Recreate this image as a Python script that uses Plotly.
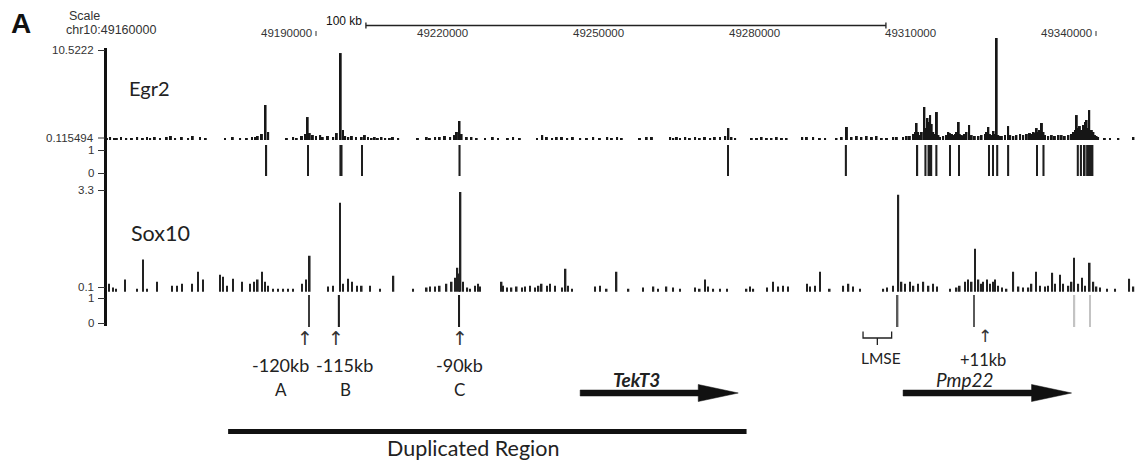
import plotly.graph_objects as go

# ---------------- data (genomic positions in kb on chr10) ----------------
tick_kb = [49190, 49220, 49250, 49280, 49310, 49340]
tick_text = ["49190000", "49220000", "49250000", "49280000", "49310000", "49340000"]
scale_start_kb = 49199.6
scale_len_kb = 100

egr2_pos = [49149.8, 49150.4, 49151.2, 49151.7, 49152.5, 49153.5, 49154.6, 49155.6, 49156.7, 49157.5,
            49158.1, 49159.0, 49160.0, 49161.3, 49162.1, 49162.9, 49164.2, 49165.4, 49166.3, 49167.7,
            49168.8, 49172.5, 49174.0, 49175.4, 49176.7, 49177.7, 49178.3, 49178.8, 49179.6, 49180.3,
            49180.8, 49184.4, 49185.6, 49186.3, 49187.3, 49187.9, 49188.4, 49188.8, 49189.4, 49190.0,
            49190.8, 49191.3, 49192.3, 49193.3, 49194.0, 49194.75, 49195.2, 49195.6, 49196.2, 49196.9,
            49197.7,
            49198.8, 49199.4, 49200.0, 49200.7, 49201.3, 49201.9, 49202.6, 49203.3, 49204.2, 49204.8,
            49205.8, 49209.6, 49211.3, 49211.9, 49212.9, 49213.8, 49214.8, 49215.8, 49216.7, 49217.1,
            49217.6, 49218.0, 49219.0, 49219.9, 49220.9, 49222.5, 49224.0, 49225.0, 49226.9, 49227.9,
            49229.2, 49232.5, 49233.5, 49234.4, 49235.4, 49236.3, 49237.3, 49238.3, 49239.4, 49240.8,
            49242.1, 49243.3, 49244.6, 49246.0, 49246.9, 49247.9,
            49248.8, 49252.3, 49253.6, 49254.6, 49258.1, 49258.7, 49259.4, 49260.0, 49261.0, 49261.9,
            49262.9, 49263.8, 49264.8, 49265.8, 49266.7, 49267.7, 49268.7, 49269.3, 49269.9, 49270.6,
            49273.8, 49274.8, 49275.7, 49276.7, 49277.6, 49278.6, 49279.6, 49280.5, 49283.5, 49284.4,
            49285.6, 49286.9, 49287.9, 49290.1, 49291.1, 49292.1, 49293.0, 49294.0, 49294.9, 49295.9,
            49296.9, 49297.8,
            49298.8, 49299.8, 49301.0, 49301.7, 49302.9, 49303.6, 49304.2, 49304.9, 49305.2, 49305.5,
            49305.8, 49306.2, 49306.5, 49307.0, 49307.3, 49307.6, 49307.8, 49308.1, 49308.4, 49308.7,
            49309.0, 49309.4, 49309.7, 49310.0, 49310.6, 49311.3, 49311.6, 49311.9, 49312.3, 49312.6,
            49312.9, 49313.2, 49313.6, 49313.8, 49314.2, 49314.5, 49314.8, 49315.1, 49315.6, 49316.1,
            49316.7, 49317.4, 49318.0, 49318.7, 49319.0, 49319.3, 49319.6, 49319.9, 49320.3, 49320.6,
            49320.9, 49321.2, 49321.5, 49321.9, 49322.5, 49323.1, 49323.5, 49324.1, 49324.7, 49325.4,
            49326.0, 49326.7, 49327.3, 49327.6, 49328.0, 49328.3, 49328.6, 49328.9, 49329.2, 49329.6,
            49329.9, 49330.2, 49330.8, 49331.5, 49332.1, 49332.8, 49333.4, 49334.0, 49334.7, 49335.3,
            49335.6, 49336.0, 49336.3, 49336.6, 49336.9, 49337.3, 49337.6, 49337.9, 49338.2, 49338.5,
            49338.7, 49339.2, 49339.5, 49339.8, 49340.1, 49340.4, 49341.7, 49342.7, 49344.3, 49347.2,
            49348.1]
egr2_val = [0.35, 0.46, 0.35, 0.35, 0.46, 0.35, 0.35, 0.46, 0.35, 0.46,
            0.35, 0.46, 0.35, 0.46, 0.58, 0.35, 0.46, 0.35, 0.58, 0.46,
            0.35, 0.35, 0.46, 0.35, 0.35, 0.46, 0.46, 0.58, 0.81, 4.16,
            1.04, 0.35, 0.46, 0.35, 0.58, 0.81, 2.77, 0.92, 0.69, 0.58,
            0.69, 0.46, 0.58, 0.46, 0.92, 10.17, 1.27, 0.58, 0.46, 0.58,
            0.46,
            0.46, 0.69, 0.46, 0.35, 0.46, 0.35, 0.46, 0.35, 0.35, 0.46,
            0.35, 0.35, 0.46, 0.35, 0.46, 0.46, 0.58, 0.46, 0.69, 1.04,
            2.31, 0.81, 0.46, 0.46, 0.35, 0.35, 0.46, 0.35, 0.35, 0.46,
            0.35, 0.35, 0.69, 0.46, 0.35, 0.46, 0.46, 0.35, 0.46, 0.35,
            0.35, 0.46, 0.35, 0.46, 0.35, 0.46,
            0.35, 0.35, 0.46, 0.46, 0.46, 0.35, 0.46, 0.35, 0.46, 0.35,
            0.46, 0.35, 0.46, 0.35, 0.46, 0.46, 0.58, 1.50, 0.46, 0.35,
            0.35, 0.35, 0.46, 0.35, 0.35, 0.46, 0.35, 0.35, 0.46, 0.46,
            0.46, 0.35, 0.35, 0.35, 0.46, 1.62, 0.46, 0.58, 0.46, 0.58,
            0.46, 0.58,
            0.35, 0.35, 0.46, 0.46, 0.46, 0.58, 0.58, 0.81, 1.04, 2.08,
            1.04, 0.69, 1.04, 3.93, 1.50, 2.66, 2.20, 3.00, 1.97, 1.04,
            0.81, 3.35, 0.69, 0.46, 0.58, 0.69, 1.04, 0.92, 0.81, 0.69,
            0.81, 1.04, 2.20, 0.81, 0.69, 0.58, 0.81, 1.04, 1.85, 0.69,
            0.58, 0.58, 0.69, 0.81, 1.04, 1.62, 0.81, 0.69, 1.16, 0.81,
            11.91, 0.69, 0.58, 0.58, 0.69, 1.73, 0.69, 0.58, 0.69, 0.81,
            0.69, 0.81, 0.92, 0.81, 1.04, 0.92, 1.50, 1.04, 1.27, 2.08,
            1.04, 0.69, 0.58, 0.69, 0.58, 0.69, 0.69, 0.58, 0.69, 0.81,
            1.04, 1.27, 3.00, 1.50, 1.73, 1.27, 1.85, 2.20, 2.43, 1.50,
            3.58, 1.27, 1.04, 0.69, 0.58, 0.46, 0.35, 0.35, 0.35, 0.46,
            0.46]

egr2_peak_start = [49180.3, 49188.4, 49194.5, 49198.8, 49217.4, 49269.2, 49291.7, 49305.5, 49307.0, 49307.6,
                   49308.2, 49309.1, 49311.8, 49313.5, 49319.3, 49320.0, 49320.8, 49322.9, 49328.6, 49329.7,
                   49336.3, 49336.9, 49337.5, 49338.1, 49338.8, 49339.2]
egr2_peak_end = [49180.6, 49188.6, 49195.1, 49199.0, 49217.8, 49269.4, 49292.1, 49305.8, 49307.4, 49308.1,
                 49308.5, 49309.5, 49312.0, 49313.8, 49319.5, 49320.3, 49321.2, 49323.3, 49328.8, 49330.1,
                 49336.7, 49337.3, 49338.0, 49338.7, 49339.1, 49339.5]

sox10_pos = [49149.6, 49150.2, 49151.0, 49151.5, 49153.3, 49155.6, 49156.7, 49157.5, 49159.4, 49162.3,
             49163.3, 49164.2, 49166.2, 49167.3, 49168.3, 49171.5, 49172.1, 49172.9, 49174.0, 49175.8,
             49177.3, 49178.1, 49178.8, 49179.6, 49180.2, 49180.8, 49181.7, 49182.7, 49183.7, 49184.6,
             49185.6, 49187.3, 49188.1, 49188.8, 49192.3, 49193.3, 49194.6, 49195.2, 49196.2, 49196.9,
             49197.9, 49198.8, 49200.4, 49202.3,
             49204.9, 49208.7, 49211.3, 49211.9, 49212.9, 49213.8, 49215.1, 49216.1, 49216.7, 49217.2,
             49217.5, 49217.8, 49218.3, 49219.1, 49219.6, 49220.6, 49221.2, 49221.5, 49225.7, 49226.0,
             49226.7, 49227.6, 49228.6, 49229.6, 49230.2, 49231.2, 49232.1, 49232.8, 49233.4, 49234.4,
             49235.0, 49236.0, 49237.3, 49238.0, 49238.5, 49239.2, 49243.7, 49244.6, 49245.9, 49247.8,
             49250.1, 49252.9, 49254.9, 49255.8, 49257.4, 49258.7, 49260.0, 49262.9, 49263.8, 49264.8,
             49265.4, 49266.4, 49267.7, 49269.0, 49272.8, 49273.5, 49274.1, 49276.7,
             49277.9, 49278.9, 49279.8, 49280.8, 49284.4, 49285.0, 49286.0, 49286.9, 49288.8, 49291.4,
             49292.4, 49293.3, 49294.6, 49299.1, 49299.8, 49301.0, 49302.0, 49302.6, 49303.3, 49304.2,
             49304.9, 49305.8, 49306.8, 49307.8, 49308.7, 49309.4, 49311.9, 49313.2, 49313.8, 49314.8,
             49315.4, 49316.1, 49316.7, 49317.4, 49318.0, 49318.3, 49319.0, 49319.6, 49320.3, 49320.6,
             49321.2, 49321.9, 49322.8, 49324.1, 49325.1, 49326.0, 49327.0, 49327.6, 49328.5, 49329.2,
             49330.2, 49330.8, 49331.6, 49332.1, 49333.1, 49333.7, 49334.7, 49335.3, 49335.8, 49336.6,
             49337.3, 49337.9, 49338.8, 49339.5, 49340.1, 49340.8, 49342.1, 49343.7, 49346.4, 49347.2,
             49348.1]
sox10_val = [0.57, 0.35, 0.23, 0.19, 0.48, 0.19, 1.11, 0.19, 0.41, 0.29,
             0.29, 0.35, 0.35, 0.73, 0.48, 0.63, 0.57, 0.29, 0.51, 0.41,
             0.35, 0.41, 0.48, 0.73, 0.41, 0.29, 0.19, 0.19, 0.19, 0.19,
             0.19, 0.35, 0.48, 1.23, 0.26, 0.29, 2.90, 0.35, 0.51, 0.41,
             0.29, 0.29, 0.29, 0.19,
             0.60, 0.19, 0.23, 0.26, 0.26, 0.29, 0.35, 0.41, 0.54, 0.85,
             0.67, 3.24, 0.41, 0.23, 0.19, 0.29, 0.35, 0.26, 0.41, 0.29,
             0.23, 0.23, 0.26, 0.23, 0.26, 0.29, 0.23, 0.29, 0.35, 0.29,
             0.35, 0.29, 0.23, 0.82, 0.29, 0.19, 0.26, 0.29, 0.19, 0.73,
             0.19, 0.23, 0.26, 0.19, 0.26, 0.23, 0.19, 0.23, 0.19, 0.48,
             0.26, 0.19, 0.19, 0.19, 0.19, 0.26, 0.19, 0.23,
             0.41, 0.26, 0.29, 0.26, 0.35, 0.26, 0.29, 0.73, 0.19, 0.29,
             0.35, 0.26, 0.19, 0.19, 0.23, 0.29, 3.15, 0.41, 0.35, 0.41,
             0.29, 0.35, 0.41, 0.29, 0.35, 0.26, 0.19, 0.23, 0.29, 0.41,
             0.48, 0.41, 1.45, 0.48, 0.35, 0.41, 0.48, 0.35, 0.41, 0.48,
             0.29, 0.23, 0.19, 0.73, 0.26, 0.23, 0.23, 0.35, 0.73, 0.29,
             0.26, 0.29, 0.70, 0.35, 0.63, 0.35, 0.29, 0.41, 1.17, 0.35,
             0.54, 0.29, 1.01, 0.41, 0.26, 0.23, 0.19, 0.19, 0.51, 0.26,
             0.19]

sox10_peak_start = [49188.6, 49194.2, 49217.4, 49301.7, 49316.4, 49335.7, 49338.7]
sox10_peak_end = [49188.8, 49194.6, 49217.7, 49302.0, 49316.7, 49336.0, 49339.0]
sox10_peak_score = [900, 1000, 1000, 800, 800, 450, 450]

tekt3_kb = [49240.8, 49271.2]
pmp22_kb = [49302.9, 49335.3]
dup_region_kb = [49173.1, 49272.8]
lmse_kb = [49295.2, 49300.7]

enhancers = [("-120kb", "A", 49187.9), ("-115kb", "B", 49193.9), ("-90kb", "C", 49217.6)]
plus11_kb = 49318.6

egr2_range = [0.115494, 10.5222]
sox10_range = [0.1, 3.3]

# ---------------- layout helpers ----------------
# the page body adds an 8px margin, so the figure is drawn 8px smaller and shifted
OFF = 8
W, H = 1144 - OFF, 461 - OFF
KB_PER_PX = 1 / 5.2
X0 = 49190 - (316 - OFF) * KB_PER_PX
X1 = X0 + W * KB_PER_PX


def py(p):
    return 1 - (p - OFF) / H


def px(p):
    return (p - OFF) / W


UC = "Liberation Sans, Arial, sans-serif"
CAL = "Lato, DejaVu Sans, sans-serif"

fig = go.Figure()

# Egr2 signal
fig.add_trace(go.Bar(x=egr2_pos, y=egr2_val, width=0.38, marker=dict(color="#161616", line=dict(width=0)),
                     yaxis="y", xaxis="x", hoverinfo="skip"))
# Egr2 peaks
e_mid = [(a + b) / 2 for a, b in zip(egr2_peak_start, egr2_peak_end)]
e_w = [b - a for a, b in zip(egr2_peak_start, egr2_peak_end)]
fig.add_trace(go.Bar(x=e_mid, y=[1] * len(e_mid), width=e_w, marker=dict(color="#1e1e1e", line=dict(width=0)),
                     yaxis="y2", xaxis="x", hoverinfo="skip"))
# Sox10 signal
fig.add_trace(go.Bar(x=sox10_pos, y=sox10_val, width=0.3, marker=dict(color="#222222", line=dict(width=0)),
                     yaxis="y3", xaxis="x", hoverinfo="skip"))
# Sox10 peaks
s_mid = [(a + b) / 2 for a, b in zip(sox10_peak_start, sox10_peak_end)]
s_w = [b - a for a, b in zip(sox10_peak_start, sox10_peak_end)]
s_col = ["rgb(%d,%d,%d)" % ((1000 - s) * 0.3 + 30, (1000 - s) * 0.3 + 30, (1000 - s) * 0.3 + 30)
         for s in sox10_peak_score]
fig.add_trace(go.Bar(x=s_mid, y=[1] * len(s_mid), width=s_w, marker=dict(color=s_col, line=dict(width=0)),
                     yaxis="y4", xaxis="x", hoverinfo="skip"))

egr2_top = egr2_range[0] + (140 - 36) / 90 * (egr2_range[1] - egr2_range[0])
sox10_top = sox10_range[0] + (291.7 - 188) / (291.7 - 190) * (sox10_range[1] - sox10_range[0])

hidden = dict(visible=False, fixedrange=True)
fig.update_layout(
    width=W, height=H, margin=dict(l=0, r=0, t=0, b=0),
    paper_bgcolor="white", plot_bgcolor="rgba(0,0,0,0)",
    showlegend=False, barmode="overlay",
    xaxis=dict(range=[X0, X1], domain=[0, 1], **hidden),
    yaxis=dict(range=[egr2_range[0], egr2_top], domain=[py(140), py(36)], anchor="x", **hidden),
    yaxis2=dict(range=[0, 1], domain=[py(176), py(145)], anchor="x", **hidden),
    yaxis3=dict(range=[sox10_range[0], sox10_top], domain=[py(291.7), py(188)], anchor="x", **hidden),
    yaxis4=dict(range=[0, 1], domain=[py(327), py(295)], anchor="x", **hidden),
)

ann = []
shapes = []


def txt(s, xp, yp, size, family=UC, xanchor="center", color="#111", **kw):
    ann.append(dict(text=s, x=px(xp), y=py(yp), xref="paper", yref="paper", xanchor=xanchor, yanchor="middle",
                    showarrow=False, font=dict(size=size, family=family, color=color), **kw))


def hline_px(x0, x1, y, w=1, color="#111"):
    shapes.append(dict(type="line", xref="paper", yref="paper", x0=px(x0), x1=px(x1), y0=py(y), y1=py(y),
                       line=dict(color=color, width=w)))


def vline_px(x, y0, y1, w=1, color="#111"):
    shapes.append(dict(type="line", xref="paper", yref="paper", x0=px(x), x1=px(x), y0=py(y0), y1=py(y1),
                       line=dict(color=color, width=w)))


def dtxt(s, k, yp, size, family=CAL, xanchor="center", xshift=0, color="#222"):
    ann.append(dict(text=s, x=k, y=py(yp), xref="x", yref="paper", xanchor=xanchor, yanchor="middle",
                    xshift=xshift, showarrow=False, font=dict(size=size, family=family, color=color)))


# panel letter and header
txt("<b>A</b>", 21, 24, 28, UC)
txt("Scale", 84, 16, 12.5, UC, color="#333")
txt("chr10:49160000", 111, 29.5, 12.5, UC, color="#333")

# scale bar
sb_y = 25.5
shapes.append(dict(type="line", xref="x", yref="paper", x0=scale_start_kb, x1=scale_start_kb + scale_len_kb,
                   y0=py(sb_y), y1=py(sb_y), line=dict(color="#222", width=1.3)))
for xe in (scale_start_kb, scale_start_kb + scale_len_kb):
    shapes.append(dict(type="line", xref="x", yref="paper", x0=xe, x1=xe, y0=py(sb_y - 3), y1=py(sb_y + 3),
                       line=dict(color="#222", width=1.3)))
dtxt(f"{scale_len_kb} kb", scale_start_kb, 21, 12, UC, xanchor="right", xshift=-2, color="#111")

# position ticks
for i, (k, t) in enumerate(zip(tick_kb, tick_text)):
    dtxt(t, k, 33.5, 11.5, UC, xanchor="right", xshift=-2, color="#333")
    if i in (0, len(tick_kb) - 1):
        shapes.append(dict(type="line", xref="x", yref="paper", x0=k, x1=k, y0=py(31), y1=py(36),
                           line=dict(color="#333", width=1)))

# vertical axis & ticks
vline_px(105.5, 48, 326, w=3)
for lab, yv in [("10.5222", 50), ("0.115494", 137.5), ("1", 150), ("0", 173), ("3.3", 190), ("0.1", 287),
                ("1", 298), ("0", 323)]:
    txt(lab, 96, yv, 11.5, UC, xanchor="right", color="#333")
    hline_px(98, 105, yv + 0.5, w=1, color="#333")

# track names
txt("Egr2", 149, 88, 20, CAL, color="#222")
txt("Sox10", 160, 233, 21.5, CAL, color="#222")

# enhancer arrows and labels
for lab, letter, k in enhancers:
    dtxt("↑", k, 338, 19, "DejaVu Sans", color="#333")
for (lab, letter, k), dx in zip(enhancers, (-25, 8, 0)):
    dtxt(lab, k, 365, 18, xshift=dx)
    dtxt(letter, k, 389, 17, xshift=dx + (1 if dx else 0))

# LMSE bracket
lm0, lm1 = lmse_kb
lmm = (lm0 + lm1) / 2
shapes.append(dict(type="path", xref="x", yref="paper",
                   path=f"M {lm0},{py(331.5)} L {lm0},{py(338)} L {lm1},{py(338)} L {lm1},{py(331.5)} "
                        f"M {lmm},{py(338)} L {lmm},{py(345)}",
                   line=dict(color="#222", width=1.3)))
dtxt("LMSE", lmm, 358, 15.5, xshift=4)
dtxt("↑", plus11_kb, 336, 17, "DejaVu Sans", color="#333")
dtxt("+11kb", plus11_kb, 360, 16.5, xshift=-2)

# gene arrows
HEAD_KB = 40 * KB_PER_PX
ay = 393
for (g0, g1), name in [(tekt3_kb, "<b><i>TekT3</i></b>"), (pmp22_kb, "<i>Pmp22</i>")]:
    hb = g1 - HEAD_KB
    path = (f"M {g0},{py(ay - 3)} L {hb},{py(ay - 3)} L {hb},{py(ay - 8.5)} L {g1},{py(ay)} "
            f"L {hb},{py(ay + 8.5)} L {hb},{py(ay + 3)} L {g0},{py(ay + 3)} Z")
    shapes.append(dict(type="path", xref="x", yref="paper", path=path, fillcolor="#111",
                       line=dict(color="#111", width=0.5)))
    dtxt(name, g0, 379, 19, xanchor="left", xshift=31)

# duplicated region
shapes.append(dict(type="line", xref="x", yref="paper", x0=dup_region_kb[0], x1=dup_region_kb[1],
                   y0=py(431.5), y1=py(431.5), line=dict(color="#111", width=5)))
dtxt("Duplicated Region", sum(dup_region_kb) / 2, 448, 21.5, xshift=-14)

fig.update_layout(annotations=ann, shapes=shapes)
fig.write_html("out.html")
